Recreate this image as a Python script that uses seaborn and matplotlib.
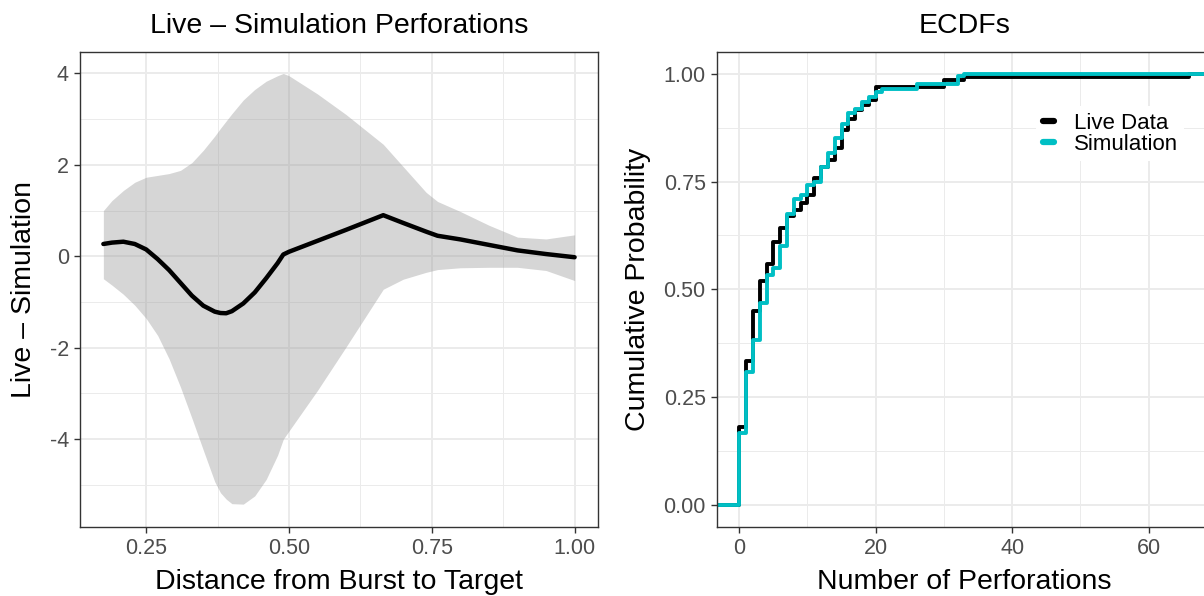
import matplotlib
matplotlib.use("Agg")
import matplotlib.pyplot as plt
import matplotlib.ticker as mticker
import numpy as np
import seaborn as sns

# ── Left panel: smoothed live - simulation difference with its band ──
distance   = [0.175, 0.19, 0.21, 0.23, 0.25, 0.27, 0.29, 0.31, 0.33, 0.35, 0.37, 0.38,
              0.39, 0.40, 0.42, 0.44, 0.46, 0.48, 0.49, 0.50, 0.55, 0.60, 0.665, 0.70,
              0.74, 0.76, 0.80, 0.85, 0.90, 0.95, 1.00]
diff_fit   = [0.27, 0.30, 0.32, 0.27, 0.15, -0.06, -0.30, -0.58, -0.86, -1.08, -1.21, -1.24,
              -1.245, -1.20, -1.03, -0.79, -0.48, -0.15, 0.04, 0.10, 0.34, 0.58, 0.90, 0.73,
              0.54, 0.45, 0.37, 0.25, 0.13, 0.05, -0.02]
diff_upper = [1.00, 1.22, 1.44, 1.62, 1.73, 1.77, 1.81, 1.88, 2.05, 2.32, 2.63, 2.80,
              2.96, 3.12, 3.42, 3.65, 3.83, 3.95, 4.00, 3.95, 3.55, 3.10, 2.45, 1.96,
              1.40, 1.20, 0.98, 0.68, 0.42, 0.38, 0.47]
diff_lower = [-0.49, -0.63, -0.83, -1.07, -1.36, -1.73, -2.24, -2.86, -3.54, -4.24, -4.93, -5.17,
              -5.31, -5.41, -5.42, -5.24, -4.88, -4.35, -4.00, -3.82, -2.93, -1.98, -0.72, -0.50,
              -0.35, -0.29, -0.25, -0.24, -0.24, -0.31, -0.53]

# ── Right panel: share of observations at each perforation count ──
live_perf  = [0, 1, 2, 3, 4, 5, 6, 7, 8, 9, 10, 11, 12, 13, 14, 15, 16, 17, 18, 19, 20,
              30, 33, 66]
live_share = [0.182, 0.153, 0.115, 0.070, 0.040, 0.050, 0.032, 0.027, 0.014, 0.017, 0.018,
              0.040, 0.025, 0.017, 0.027, 0.043, 0.024, 0.021, 0.012, 0.011, 0.031,
              0.016, 0.007, 0.008]
sim_perf   = [0, 1, 2, 3, 4, 5, 6, 7, 8, 9, 10, 11, 12, 13, 14, 15, 16, 17, 18, 19, 20,
              21, 26, 32, 33]
sim_share  = [0.168, 0.141, 0.074, 0.085, 0.065, 0.017, 0.050, 0.075, 0.035, 0.008, 0.024,
              0.008, 0.033, 0.034, 0.033, 0.033, 0.025, 0.009, 0.016, 0.012, 0.013,
              0.007, 0.010, 0.019, 0.006]

CYAN   = "#00BFC4"
GRID   = "#EBEBEB"
BORDER = "#333333"
TICKC  = "#4D4D4D"

sns.set_theme(style="white", rc={
    "axes.edgecolor": BORDER, "axes.linewidth": 1.0,
    "text.color": "black", "axes.labelcolor": "black",
    "xtick.color": BORDER, "ytick.color": BORDER,
    "xtick.labelcolor": TICKC, "ytick.labelcolor": TICKC,
    "xtick.bottom": True, "ytick.left": True,
    "xtick.major.size": 4, "ytick.major.size": 4,
    "xtick.major.width": 1.0, "ytick.major.width": 1.0,
    "xtick.major.pad": 4, "ytick.major.pad": 4,
    "xtick.labelsize": 15.5, "ytick.labelsize": 15.5,
    "axes.labelsize": 20.5, "axes.titlesize": 20.5,
    "axes.unicode_minus": False,
})
plt.rcParams["font.family"] = ["Liberation Sans", "DejaVu Sans"]


def ggplot_grid(ax):
    ax.set_axisbelow(True)
    ax.grid(which="major", color=GRID, lw=1.4)
    ax.grid(which="minor", color=GRID, lw=0.7)
    ax.tick_params(which="minor", length=0)


fig = plt.figure(figsize=(12.04, 5.96), dpi=100)
ax1 = fig.add_axes([0.0664, 0.1158, 0.4303, 0.797])
ax2 = fig.add_axes([0.5953, 0.1158, 0.4113, 0.797])

# ── Panel 1 ─────────────────────────────────────────────
ax1.fill_between(distance, diff_lower, diff_upper, color="#999999", alpha=0.4, lw=0)
sns.lineplot(x=distance, y=diff_fit, ax=ax1, color="black", lw=3.2, sort=False)
ax1.set_xlim(0.134, 1.041)
ax1.set_ylim(-5.92, 4.47)
ax1.xaxis.set_major_locator(mticker.FixedLocator([0.25, 0.50, 0.75, 1.00]))
ax1.xaxis.set_minor_locator(mticker.FixedLocator([0.375, 0.625, 0.875]))
ax1.xaxis.set_major_formatter(mticker.FormatStrFormatter("%.2f"))
ax1.yaxis.set_major_locator(mticker.FixedLocator([-4, -2, 0, 2, 4]))
ax1.yaxis.set_minor_locator(mticker.FixedLocator([-5, -3, -1, 1, 3]))
ax1.set_xlabel("Distance from Burst to Target", labelpad=7)
ax1.set_ylabel("Live – Simulation", labelpad=9)
ax1.set_title("Live – Simulation Perforations", pad=14)
ggplot_grid(ax1)

# ── Panel 2 ─────────────────────────────────────────────
x_lo, x_hi = -3.3, 69.3
sns.ecdfplot(x=live_perf, weights=live_share, ax=ax2, color="black", lw=2.8,
             label="Live Data")
sns.ecdfplot(x=sim_perf, weights=sim_share, ax=ax2, color=CYAN, lw=2.8,
             label="Simulation")
# stretch both step lines across the whole panel, like stat_ecdf(pad = TRUE)
for line in ax2.lines:
    xs, ys = line.get_data()
    xs = np.asarray(xs, dtype=float)
    ys = np.asarray(ys, dtype=float)
    xs[~np.isfinite(xs)] = x_lo - 5
    line.set_data(np.r_[xs, x_hi + 5], np.r_[ys, ys[-1]])
ax2.set_xlim(x_lo, x_hi)
ax2.set_ylim(-0.05, 1.05)
ax2.xaxis.set_major_locator(mticker.FixedLocator([0, 20, 40, 60]))
ax2.xaxis.set_minor_locator(mticker.FixedLocator([10, 30, 50]))
ax2.yaxis.set_major_locator(mticker.FixedLocator([0, 0.25, 0.5, 0.75, 1.0]))
ax2.yaxis.set_minor_locator(mticker.FixedLocator([0.125, 0.375, 0.625, 0.875]))
ax2.yaxis.set_major_formatter(mticker.FormatStrFormatter("%.2f"))
ax2.set_xlabel("Number of Perforations", labelpad=7)
ax2.set_ylabel("Cumulative Probability", labelpad=9)
ax2.set_title("ECDFs", pad=14)
ggplot_grid(ax2)

leg = ax2.legend(loc="upper left", bbox_to_anchor=(0.622, 0.91), fontsize=16,
                 frameon=True, facecolor="white", edgecolor="none", framealpha=1,
                 fancybox=False, handlelength=0.5, handletextpad=0.9,
                 labelspacing=0.0, borderpad=0.3)
for h in leg.get_lines():
    h.set_linewidth(4.5)

fig.savefig("out.png", dpi=100, facecolor="white")
